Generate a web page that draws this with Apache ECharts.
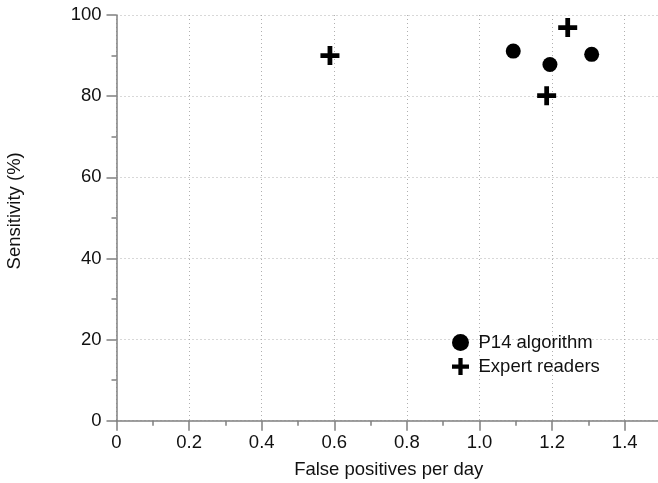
<!DOCTYPE html>
<html>
<head>
<meta charset="utf-8">
<script src="https://cdn.jsdelivr.net/npm/echarts@6/dist/echarts.min.js"></script>
<style>
  html, body { margin: 0; padding: 0; background: #fff; }
  #chart { width: 658px; height: 483px; }
</style>
</head>
<body>
<div id="chart"></div>
<script>
// P14 algorithm: [false positives per day, sensitivity %]
var p14Points = [[1.093, 91.1], [1.194, 87.8], [1.309, 90.3]];
// expert readers
var expertPoints = [[0.588, 90.0], [1.185, 80.1], [1.243, 96.9]];
var seriesNames = ['P14 algorithm', 'Expert readers'];

var plusPath = 'path://M7.5,0h5v7.5h7.5v5h-7.5v7.5h-5v-7.5h-7.5v-5h7.5z';
var font = 'Liberation Sans';
var fsize = 18.5;

var option = {
  animation: false,
  backgroundColor: '#fff',
  grid: { left: 116.5, top: 15, width: 544.5, height: 405.7, outerBoundsMode: 'none', containLabel: false },
  legend: {
    orient: 'vertical',
    left: 447,
    top: 328,
    itemWidth: 24,
    itemHeight: 17,
    itemGap: 5,
    symbolKeepAspect: true,
    textStyle: { fontFamily: font, fontSize: fsize, color: '#111', padding: [0, 0, 0, 1] },
    data: [
      { name: seriesNames[0], icon: 'circle' },
      { name: seriesNames[1], icon: plusPath }
    ]
  },
  xAxis: {
    type: 'value',
    min: 0, max: 1.5, interval: 0.2,
    name: 'False positives per day',
    nameLocation: 'middle',
    nameGap: 40,
    nameTextStyle: { fontFamily: font, fontSize: fsize, color: '#111' },
    axisLine: { show: true, lineStyle: { color: '#808080', width: 1.5 } },
    axisTick: { show: true, length: 10, lineStyle: { color: '#808080', width: 1.5 } },
    minorTick: { show: true, splitNumber: 2, length: 5, lineStyle: { color: '#808080', width: 1.5 } },
    axisLabel: {
      margin: 13, fontFamily: font, fontSize: fsize, color: '#111',
      formatter: function (v) { return v === 0 ? '0' : v.toFixed(1); },
      showMaxLabel: false
    },
    splitLine: { show: true, lineStyle: { color: '#b0b0b0', type: [1, 3], width: 1 } }
  },
  yAxis: {
    type: 'value',
    min: 0, max: 100, interval: 20,
    name: 'Sensitivity (%)',
    nameLocation: 'middle',
    nameGap: 92,
    nameTextStyle: { fontFamily: font, fontSize: fsize, color: '#111', padding: [0, 0, 0, 14] },
    axisLine: { show: true, lineStyle: { color: '#808080', width: 1.5 } },
    axisTick: { show: true, length: 10, lineStyle: { color: '#808080', width: 1.5 } },
    minorTick: { show: true, splitNumber: 2, length: 5, lineStyle: { color: '#808080', width: 1.5 } },
    axisLabel: { margin: 15, fontFamily: font, fontSize: fsize, color: '#111' },
    splitLine: { show: true, lineStyle: { color: '#b0b0b0', type: [1, 3], width: 1 } }
  },
  series: [
    {
      name: seriesNames[0],
      type: 'scatter',
      symbol: 'circle',
      symbolSize: 15,
      itemStyle: { color: '#000', opacity: 1 },
      data: p14Points
    },
    {
      name: seriesNames[1],
      type: 'scatter',
      symbol: plusPath,
      symbolSize: 19,
      itemStyle: { color: '#000', opacity: 1 },
      data: expertPoints
    }
  ]
};

var myChart = echarts.init(document.getElementById('chart'));
myChart.setOption(option);
</script>
</body>
</html>
